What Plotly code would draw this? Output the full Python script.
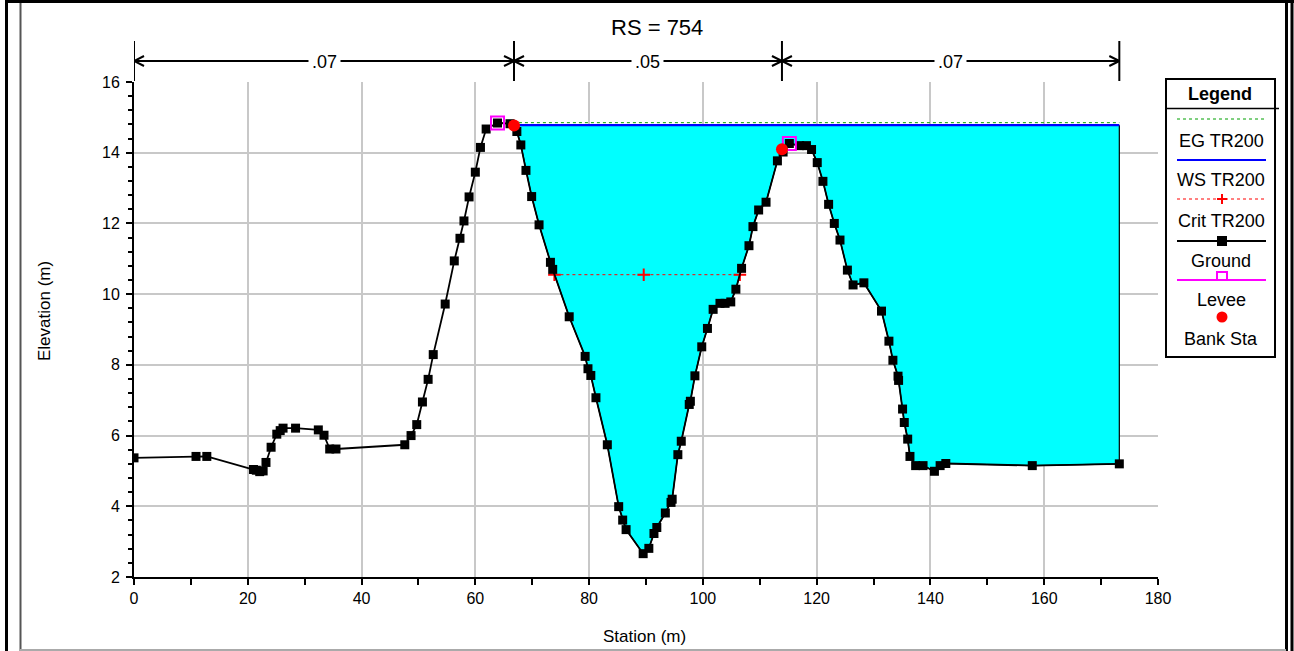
import plotly.graph_objects as go

# ---------------- data ----------------
ground_x = [0, 10.9, 12.8, 21.0, 21.5, 22.1, 22.7, 23.2, 24.1, 25.1, 25.7, 26.2, 28.4, 32.4, 33.4,
            34.4, 35.5, 47.6, 48.7, 49.7, 50.7, 51.7, 52.6, 54.7, 56.3, 57.3, 58.0, 58.9, 60.0,
            60.9, 61.9, 63.9, 66.1, 67.3, 68.0, 68.9, 69.9, 71.2, 73.2, 73.6, 76.5, 79.3, 79.8,
            80.3, 81.2, 83.2, 85.2, 85.9, 86.5, 89.5, 90.5, 91.4, 91.9, 93.4, 94.4, 94.6, 95.6,
            96.2, 97.6, 97.8, 98.6, 99.8, 100.8, 101.8, 103.0, 103.9, 104.9, 105.8, 106.8, 108.1,
            108.8, 109.8, 111.1, 113.1, 114.1, 115.2, 117.0, 118.2, 119.1, 120.1, 121.1, 122.1,
            123.1, 124.1, 125.4, 126.4, 128.3, 131.4, 132.7, 133.4, 134.3, 134.4, 135.1, 135.4,
            136.0, 136.4, 137.4, 138.7, 140.7, 141.7, 142.7, 157.9, 173.2]
ground_y = [5.37, 5.41, 5.41, 5.04, 5.02, 4.98, 5.0, 5.24, 5.67, 6.04, 6.14, 6.21, 6.21, 6.16, 6.01,
            5.62, 5.62, 5.74, 6.0, 6.31, 6.95, 7.59, 8.29, 9.72, 10.94, 11.58, 12.07, 12.75, 13.45,
            14.15, 14.67, 14.84, 14.82, 14.6, 14.22, 13.5, 12.76, 11.96, 10.9, 10.7, 9.36, 8.24, 7.89,
            7.7, 7.07, 5.74, 3.99, 3.61, 3.34, 2.66, 2.81, 3.23, 3.4, 3.81, 4.11, 4.2, 5.46,
            5.84, 6.88, 6.97, 7.69, 8.51, 9.03, 9.57, 9.74, 9.74, 9.78, 10.14, 10.73, 11.37,
            11.91, 12.38, 12.6, 13.77, 14.02, 14.26, 14.2, 14.2, 14.09, 13.72, 13.19, 12.54,
            12.0, 11.53, 10.68, 10.26, 10.32, 9.52, 8.67, 8.13, 7.68, 7.56, 6.75, 6.37,
            5.9, 5.41, 5.15, 5.15, 4.99, 5.15, 5.21, 5.15, 5.2]

ws_elev = 14.78
eg_elev = 14.85
crit_elev = 10.55
ws_x = [66.8, 173.2]
eg_x = [64.5, 173.2]
crit_x = [73.9, 89.6, 106.5]
levee_x = [63.9, 115.2]
levee_y = [14.84, 14.26]
bank_x = [66.8, 113.9]
bank_y = [14.77, 14.1]
n_values = [".07", ".05", ".07"]
n_breaks = [0, 66.8, 113.9, 173.2]

title_text = "RS = 754"
x_title = "Station (m)"
y_title = "Elevation (m)"
legend_labels = ["EG TR200", "WS TR200", "Crit TR200", "Ground", "Levee", "Bank Sta"]

# ---------------- layout helpers ----------------
W, H = 1294, 651
L, T, R, B = 134, 82, 1158, 577
def px(x):
    return (x - L) / (R - L)
def py(y):
    return (B - y) / (B - T)

FONT = "Liberation Sans, Arial, sans-serif"
fig = go.Figure()

# water fill
wx = [bank_x[0]] + [gx for gx in ground_x if gx > bank_x[0]] + [ground_x[-1]]
wy = [ws_elev] + [gy for gx, gy in zip(ground_x, ground_y) if gx > bank_x[0]] + [ws_elev]
fig.add_trace(go.Scatter(x=wx, y=wy, fill="toself", fillcolor="#00FFFF", mode="lines",
                         line=dict(color="black", width=1.2), hoverinfo="skip", showlegend=False))
# EG
fig.add_trace(go.Scatter(x=eg_x, y=[eg_elev] * len(eg_x), mode="lines",
                         line=dict(color="#00A000", width=1, dash="dot"), showlegend=False))
# WS
fig.add_trace(go.Scatter(x=ws_x, y=[ws_elev] * len(ws_x), mode="lines",
                         line=dict(color="#0000FF", width=2.2), showlegend=False))
# Crit
fig.add_trace(go.Scatter(x=crit_x, y=[crit_elev] * len(crit_x), mode="lines+markers",
                         line=dict(color="red", width=1, dash="dot"),
                         marker=dict(symbol="cross-thin", size=9, line=dict(color="red", width=2)),
                         showlegend=False))
# Ground
fig.add_trace(go.Scatter(x=ground_x, y=ground_y, mode="lines+markers",
                         line=dict(color="black", width=1.8),
                         marker=dict(symbol="square", size=9, color="black"), showlegend=False))
# Levee
fig.add_trace(go.Scatter(x=levee_x, y=levee_y, mode="markers",
                         marker=dict(symbol="square-open", size=13, color="#FF00FF",
                                     line=dict(width=2, color="#FF00FF")), showlegend=False))
# Bank
fig.add_trace(go.Scatter(x=bank_x, y=bank_y, mode="markers",
                         marker=dict(symbol="circle", size=12, color="red"), showlegend=False))

shapes = []
annots = []

def text(x, y, s, size, xref="paper", **kw):
    d = dict(x=x, y=y, xref=xref, yref="paper", text=s, showarrow=False,
             xanchor="center", yanchor="middle",
             font=dict(family=FONT, size=size, color="black"))
    d.update(kw)
    annots.append(d)

# Manning's n breaks
for xb in n_breaks:
    shapes.append(dict(type="line", xref="x", yref="paper", x0=xb, x1=xb, y0=py(41), y1=py(81),
                       line=dict(color="black", width=2)))
y_arrow = py(61)
for i, val in enumerate(n_values):
    a, b = n_breaks[i], n_breaks[i + 1]
    shapes.append(dict(type="line", xref="x", yref="paper", x0=a, x1=b, y0=y_arrow, y1=y_arrow,
                       line=dict(color="black", width=2)))
    for xt, sgn in ((a, 1), (b, -1)):
        for dy in (5, -5):
            shapes.append(dict(type="line", xref="x", yref="paper", xsizemode="pixel",
                               ysizemode="pixel", xanchor=xt, yanchor=y_arrow,
                               x0=0, x1=sgn * 10, y0=0, y1=dy,
                               line=dict(color="black", width=2)))
    text((a + b) / 2, py(62), val, 18, xref="x", bgcolor="white", borderpad=3)

# title & axis titles
text(px(657), py(28), title_text, 22)
text(px(644), py(636), x_title, 17)
text(px(44), py(311), y_title, 17, textangle=-90)

# legend box (drawn)
shapes.append(dict(type="rect", xref="paper", yref="paper", x0=px(1166), x1=px(1275),
                   y0=py(357), y1=py(79), line=dict(color="black", width=2), fillcolor="white"))
shapes.append(dict(type="line", xref="paper", yref="paper", x0=px(1166), x1=px(1279),
                   y0=py(108.5), y1=py(108.5), line=dict(color="black", width=1.5)))
text(px(1220), py(94), "<b>Legend</b>", 18)
sample_y = [119, 160, 199, 241, 280, 317]
label_y = [141, 180, 221, 261, 300, 339]
styles = [dict(color="#00A000", width=1, dash="dot"), dict(color="#0000FF", width=2.2),
          dict(color="red", width=1, dash="dot"), dict(color="black", width=2),
          dict(color="#FF00FF", width=2), None]
xm = px(1222)
for i, lab in enumerate(legend_labels):
    yy = py(sample_y[i])
    if styles[i] is not None:
        shapes.append(dict(type="line", xref="paper", yref="paper", x0=px(1177), x1=px(1266),
                           y0=yy, y1=yy, line=styles[i]))
    text(px(1221), py(label_y[i]), lab, 18)
# crit plus
for (a0, a1, b0, b1) in ((-5, 5, 0, 0), (0, 0, -5, 5)):
    shapes.append(dict(type="line", xref="paper", yref="paper", xsizemode="pixel", ysizemode="pixel",
                       xanchor=xm, yanchor=py(sample_y[2]), x0=a0, x1=a1, y0=b0, y1=b1,
                       line=dict(color="red", width=2)))
# ground square
shapes.append(dict(type="rect", xref="paper", yref="paper", xsizemode="pixel", ysizemode="pixel",
                   xanchor=xm, yanchor=py(sample_y[3]), x0=-5, x1=5, y0=-5, y1=5,
                   fillcolor="black", line=dict(width=0)))
# levee open square
shapes.append(dict(type="rect", xref="paper", yref="paper", xsizemode="pixel", ysizemode="pixel",
                   xanchor=xm, yanchor=py(sample_y[4]), x0=-5, x1=5, y0=0, y1=8,
                   fillcolor="rgba(0,0,0,0)", line=dict(color="#FF00FF", width=2)))
# bank circle
shapes.append(dict(type="circle", xref="paper", yref="paper", xsizemode="pixel", ysizemode="pixel",
                   xanchor=xm, yanchor=py(sample_y[5]), x0=-5.5, x1=5.5, y0=-5.5, y1=5.5,
                   fillcolor="red", line=dict(width=0)))

# outer frame lines
def vline(x, y0, y1, color, width):
    shapes.append(dict(type="line", xref="paper", yref="paper", x0=px(x), x1=px(x),
                       y0=py(y0), y1=py(y1), line=dict(color=color, width=width)))
def hline(y, x0, x1, color, width):
    shapes.append(dict(type="line", xref="paper", yref="paper", x0=px(x0), x1=px(x1),
                       y0=py(y), y1=py(y), line=dict(color=color, width=width)))
vline(6.5, 0, 651, "black", 3)
hline(1.5, 5, 1294, "black", 3)
vline(1292, 0, 651, "black", 3)
vline(20.5, 3, 651, "#555555", 2)
vline(1286.5, 3, 651, "black", 3)
hline(650, 20, 1286, "#aaaaaa", 2)

fig.update_layout(
    width=W, height=H,
    margin=dict(l=L, r=W - R, t=T, b=H - B),
    paper_bgcolor="white", plot_bgcolor="white",
    showlegend=False,
    shapes=shapes, annotations=annots,
    font=dict(family=FONT, size=16, color="black"),
    xaxis=dict(range=[0, 180], dtick=20, tick0=0, showgrid=True, gridcolor="#C8C8C8", gridwidth=1.5,
               showline=True, linecolor="black", linewidth=2, ticks="outside", ticklen=6,
               tickcolor="black", tickwidth=1.5, zeroline=False,
               tickfont=dict(family=FONT, size=16, color="black"),
               minor=dict(dtick=10, ticks="outside", ticklen=6, tickcolor="black", showgrid=False)),
    yaxis=dict(range=[2, 16], dtick=2, tick0=2, showgrid=True, gridcolor="#C8C8C8", gridwidth=1.5,
               showline=True, linecolor="black", linewidth=2, ticks="outside", ticklen=6,
               tickcolor="black", tickwidth=1.5, zeroline=False, ticklabelstandoff=3,
               tickfont=dict(family=FONT, size=16, color="black"),
               minor=dict(dtick=0.4, ticks="outside", ticklen=4, tickcolor="black", showgrid=False)),
)

fig.write_html("out.html", config={"displayModeBar": False},
               post_script="document.body.style.margin='0px';")
